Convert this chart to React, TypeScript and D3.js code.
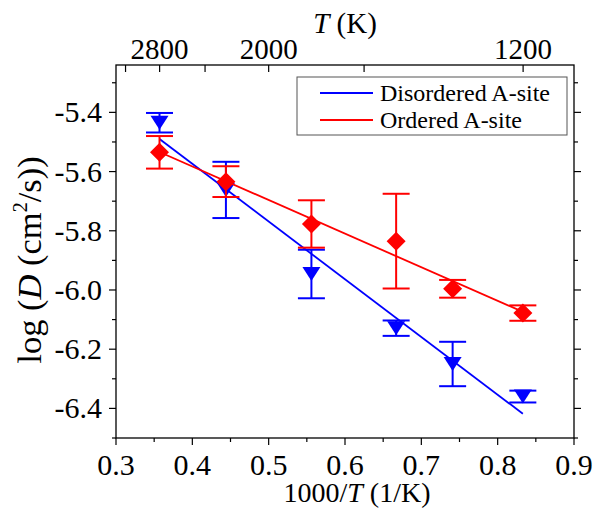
import React from "react";
import * as d3 from "d3";

// ---- data ----
const invT = [0.357, 0.444, 0.556, 0.667, 0.741, 0.833];
const disordered = [-5.435, -5.662, -5.946, -6.129, -6.25, -6.36];
const disorderedErr = [0.033, 0.095, 0.082, 0.026, 0.075, 0.02];
const ordered = [-5.535, -5.634, -5.777, -5.835, -5.996, -6.078];
const orderedErr = [0.055, 0.052, 0.08, 0.16, 0.03, 0.026];
const fitX = [0.357, 0.833];
const disorderedFit = [-5.49, -6.418];
const orderedFit = [-5.534, -6.074];
const xTicks = [0.3, 0.4, 0.5, 0.6, 0.7, 0.8, 0.9];
const yTicks = [-6.4, -6.2, -6.0, -5.8, -5.6, -5.4];
const topTemps = [3200, 2800, 2400, 2000, 1600, 1200];
const topLabels = [2800, 2000, 1200];
const seriesNames = ["Disordered A-site", "Ordered A-site"];

const W = 597, H = 508;
const L = 116, R = 574, T = 65, B = 438;
const FONT = "Liberation Serif, Times New Roman, serif";
const BLUE = "#0000ff";
const RED = "#ff0000";

export default function App() {
  const x = d3.scaleLinear().domain([0.3, 0.9]).range([L, R]);
  const y = d3.scaleLinear().domain([-6.5, -5.24]).range([B, T]);
  const line = d3.line<[number, number]>().x(d => x(d[0])).y(d => y(d[1]));

  const xMinor = d3.range(0.3, 0.9001, 0.05);
  const yMinor = d3.range(-6.5, -5.24, 0.1).map(v => Math.round(v * 10) / 10);

  const tri = "M-9,-7L9,-7L0,7Z";
  const dia = "M0,-9.5L9.5,0L0,9.5L-9.5,0Z";

  const series = [
    { vals: disordered, err: disorderedErr, fit: disorderedFit, color: BLUE, marker: tri },
    { vals: ordered, err: orderedErr, fit: orderedFit, color: RED, marker: dia },
  ];

  return (
    <svg width={W} height={H} style={{ position: "absolute", left: 0, top: 0, background: "#fff", fontFamily: FONT }}>
      <rect x={0} y={0} width={W} height={H} fill="#fff" />
      {/* frame */}
      <rect x={L} y={T} width={R - L} height={B - T} fill="none" stroke="#000" strokeWidth={1.3} />
      {/* bottom ticks */}
      {xMinor.map((v, i) => {
        const major = i % 2 === 0;
        return <line key={"xb" + i} x1={x(v)} x2={x(v)} y1={B} y2={B + (major ? 7 : 4)} stroke="#000" strokeWidth={1.2} />;
      })}
      {xTicks.map(v => (
        <text key={"xl" + v} x={x(v)} y={475} fontSize={30} fontFamily={FONT} textAnchor="middle">{d3.format(".1f")(v)}</text>
      ))}
      {/* left & right ticks */}
      {yMinor.map((v, i) => {
        const major = Math.round(Math.abs(v) * 10) % 2 === 0;
        return (
          <g key={"yt" + i}>
            <line x1={L - (major ? 7 : 4)} x2={L} y1={y(v)} y2={y(v)} stroke="#000" strokeWidth={1.2} />
            <line x1={R} x2={R + (major ? 7 : 4)} y1={y(v)} y2={y(v)} stroke="#000" strokeWidth={1.2} />
          </g>
        );
      })}
      {yTicks.map(v => (
        <text key={"yl" + v} x={102} y={y(v) + 10} fontSize={30} fontFamily={FONT} textAnchor="end">{d3.format(".1f")(v).replace("−", "-")}</text>
      ))}
      {/* top ticks (temperature) */}
      {topTemps.map(t => (
        <line key={"tt" + t} x1={x(1000 / t)} x2={x(1000 / t)} y1={T} y2={T + 7} stroke="#000" strokeWidth={1.2} />
      ))}
      {topLabels.map(t => (
        <text key={"tl" + t} x={x(1000 / t)} y={59} fontSize={29} fontFamily={FONT} textAnchor="middle">{t}</text>
      ))}
      {/* axis titles */}
      <text x={(L + R) / 2} y={33} fontSize={29} fontFamily={FONT} textAnchor="middle">
        <tspan fontStyle="italic">T</tspan> (K)
      </text>
      <text x={357} y={502} fontSize={28} fontFamily={FONT} textAnchor="middle">
        1000/<tspan fontStyle="italic">T</tspan> (1/K)
      </text>
      <text transform={`translate(41, 260) rotate(-90)`} fontSize={34.5} fontFamily={FONT} textAnchor="middle">
        log (<tspan fontStyle="italic">D</tspan> (cm<tspan fontSize={20} dy={-14}>2</tspan><tspan dy={14}>/s))</tspan>
      </text>
      {/* series */}
      {series.map((s, si) => (
        <g key={"s" + si}>
          <path d={line(fitX.map((xv, i) => [xv, s.fit[i]] as [number, number])) || ""} fill="none" stroke={s.color} strokeWidth={1.8} />
          {s.vals.map((v, i) => {
            const cx = x(invT[i]);
            const y1 = y(v + s.err[i]);
            const y2 = y(v - s.err[i]);
            return (
              <g key={"e" + i} stroke={s.color} strokeWidth={2}>
                <line x1={cx} x2={cx} y1={y1} y2={y2} />
                <line x1={cx - 13.5} x2={cx + 13.5} y1={y1} y2={y1} />
                <line x1={cx - 13.5} x2={cx + 13.5} y1={y2} y2={y2} />
              </g>
            );
          })}
          {s.vals.map((v, i) => (
            <path key={"m" + i} d={s.marker} transform={`translate(${x(invT[i])},${y(v)})`} fill={s.color} />
          ))}
        </g>
      ))}
      {/* legend */}
      <rect x={297} y={77} width={270} height={58} fill="#fff" stroke="#555" strokeWidth={1} />
      {seriesNames.map((n, i) => (
        <g key={"lg" + i}>
          <line x1={320} x2={373} y1={93 + i * 27} y2={93 + i * 27} stroke={i === 0 ? BLUE : RED} strokeWidth={1.8} />
          <text x={380} y={101 + i * 27} fontSize={24} fontFamily={FONT}>{n}</text>
        </g>
      ))}
    </svg>
  );
}
